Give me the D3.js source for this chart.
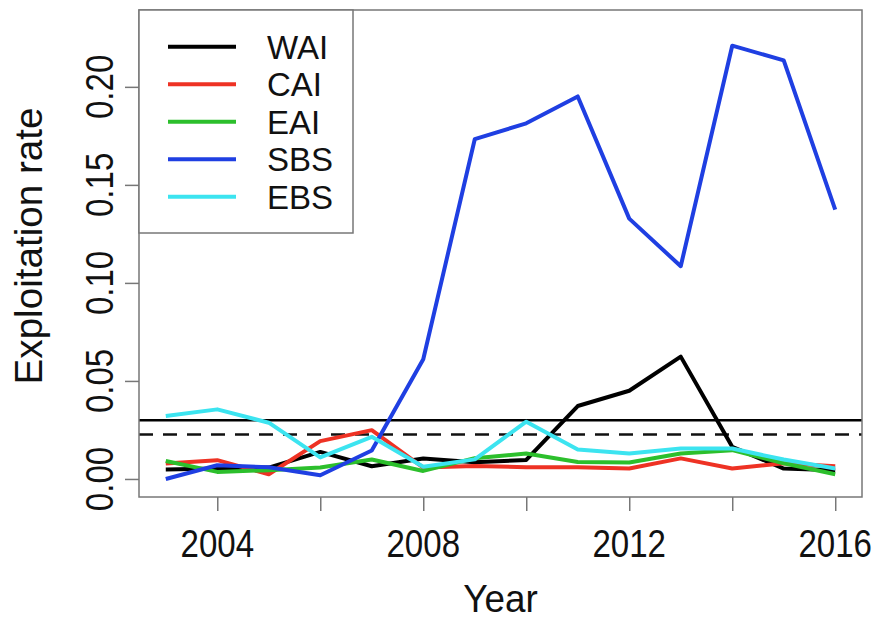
<!DOCTYPE html>
<html>
<head>
<meta charset="utf-8">
<script src="https://cdn.jsdelivr.net/npm/d3@7"></script>
<style>
  html, body { margin: 0; padding: 0; background: #fff; }
  svg { display: block; }
  text { font-family: "Liberation Sans", Arial, Helvetica, sans-serif; fill: #111; }
</style>
</head>
<body>
<div id="chart"></div>
<script>
// ---- data ----
const years = [2003, 2004, 2005, 2006, 2007, 2008, 2009, 2010, 2011, 2012, 2013, 2014, 2015, 2016];
const seriesNames = ["WAI", "CAI", "EAI", "SBS", "EBS"];
const seriesColors = ["#000000", "#ee3224", "#2cbf2c", "#1f3fe2", "#3ce4f0"];
const WAI = [0.0048, 0.0053, 0.0058, 0.0138, 0.0065, 0.0104, 0.0085, 0.0097, 0.0372, 0.0450, 0.0624, 0.0164, 0.0053, 0.0045];
const CAI = [0.0079, 0.0096, 0.0024, 0.0193, 0.0249, 0.0058, 0.0066, 0.0060, 0.0060, 0.0053, 0.0105, 0.0053, 0.0080, 0.0065];
const EAI = [0.0092, 0.0036, 0.0045, 0.0058, 0.0099, 0.0041, 0.0106, 0.0130, 0.0087, 0.0084, 0.0130, 0.0147, 0.0080, 0.0024];
const SBS = [0.0000, 0.0070, 0.0060, 0.0019, 0.0145, 0.0611, 0.1733, 0.1814, 0.1951, 0.1328, 0.1085, 0.2210, 0.2135, 0.1374];
const EBS = [0.0321, 0.0355, 0.0287, 0.0110, 0.0215, 0.0062, 0.0100, 0.0292, 0.0150, 0.0130, 0.0155, 0.0155, 0.0099, 0.0053];
const seriesValues = [WAI, CAI, EAI, SBS, EBS];
const refSolid = 0.030;
const refDashed = 0.0227;
const xTicks = [2004, 2006, 2008, 2010, 2012, 2014, 2016];
const xTickLabels = ["2004", "", "2008", "", "2012", "", "2016"];
const yTicks = [0, 0.05, 0.10, 0.15, 0.20];
const yTickLabels = ["0.00", "0.05", "0.10", "0.15", "0.20"];
const xLimits = [2003, 2016];
const yLimits = [0, 0.23];

// ---- layout ----
const W = 879, H = 619;
const plot = { left: 139, right: 862, top: 10, bottom: 497 };
const expand = (lim) => { const d = (lim[1] - lim[0]) * 0.04; return [lim[0] - d, lim[1] + d]; };

const svg = d3.select("#chart").append("svg").attr("width", W).attr("height", H);

const x = d3.scaleLinear().domain(expand(xLimits)).range([plot.left, plot.right]);
const y = d3.scaleLinear().domain(expand(yLimits)).range([plot.bottom, plot.top]);

const FS = 38;        // tick font size
const NARROW = 0.87;  // horizontal condensation of glyphs
const axisColor = "#777";

// helper: text with condensed glyphs, optional rotation
function label(parent, px, py, str, opts) {
  const o = Object.assign({ size: FS, narrow: NARROW, rotate: 0, anchor: "middle" }, opts || {});
  const g = parent.append("g")
    .attr("transform", `translate(${px},${py}) rotate(${o.rotate}) scale(${o.narrow},1)`);
  return g.append("text").attr("x", 0).attr("y", 0)
    .attr("text-anchor", o.anchor).attr("font-size", o.size).text(str);
}

// x axis (ticks via d3 axis, labels condensed)
const xAxis = d3.axisBottom(x).tickValues(xTicks).tickSize(14).tickFormat("");
const gx = svg.append("g").attr("transform", `translate(0,${plot.bottom})`).call(xAxis);
gx.select(".domain").remove();
gx.selectAll(".tick line").attr("stroke", axisColor).attr("stroke-width", 1.5);
xTicks.forEach((t, i) => {
  if (xTickLabels[i]) label(svg, x(t), 557, xTickLabels[i]);
});

// y axis
const yAxis = d3.axisLeft(y).tickValues(yTicks).tickSize(14).tickFormat("");
const gy = svg.append("g").attr("transform", `translate(${plot.left},0)`).call(yAxis);
gy.select(".domain").remove();
gy.selectAll(".tick line").attr("stroke", axisColor).attr("stroke-width", 1.5);
yTicks.forEach((t, i) => {
  label(svg, 113, y(t), yTickLabels[i], { rotate: -90 });
});

// axis titles
label(svg, (plot.left + plot.right) / 2, 612, "Year", { size: 38, narrow: 0.97 });
label(svg, 42, 246, "Exploitation rate", { size: 39, narrow: 0.99, rotate: -90 });

// clip
svg.append("clipPath").attr("id", "clip").append("rect")
  .attr("x", plot.left).attr("y", plot.top)
  .attr("width", plot.right - plot.left).attr("height", plot.bottom - plot.top);

const gp = svg.append("g").attr("clip-path", "url(#clip)");

// reference lines
gp.append("line").attr("x1", plot.left).attr("x2", plot.right)
  .attr("y1", y(refSolid)).attr("y2", y(refSolid))
  .attr("stroke", "#000").attr("stroke-width", 2.5);
gp.append("line").attr("x1", plot.left).attr("x2", plot.right)
  .attr("y1", y(refDashed)).attr("y2", y(refDashed))
  .attr("stroke", "#111").attr("stroke-width", 2.5).attr("stroke-dasharray", "14,10");

// series
const line = d3.line().x((d, i) => x(years[i])).y(d => y(d));
seriesValues.forEach((vals, k) => {
  gp.append("path").datum(vals).attr("d", line)
    .attr("fill", "none").attr("stroke", seriesColors[k])
    .attr("stroke-width", 4).attr("stroke-linejoin", "round").attr("stroke-linecap", "butt");
});

// plot box
svg.append("rect").attr("x", plot.left).attr("y", plot.top)
  .attr("width", plot.right - plot.left).attr("height", plot.bottom - plot.top)
  .attr("fill", "none").attr("stroke", axisColor).attr("stroke-width", 1.5);

// legend
const leg = { left: plot.left, top: plot.top, right: 353, bottom: 233 };
svg.append("rect").attr("x", leg.left).attr("y", leg.top)
  .attr("width", leg.right - leg.left).attr("height", leg.bottom - leg.top)
  .attr("fill", "#fff").attr("stroke", axisColor).attr("stroke-width", 1.5);
const legStep = 37.5, legY0 = 46.7;
seriesNames.forEach((name, k) => {
  const yy = legY0 + k * legStep;
  svg.append("line").attr("x1", 168).attr("x2", 236).attr("y1", yy).attr("y2", yy)
    .attr("stroke", seriesColors[k]).attr("stroke-width", 4);
  label(svg, 267, yy + 12, name, { anchor: "start", size: 33, narrow: 1 });
});
</script>
</body>
</html>
